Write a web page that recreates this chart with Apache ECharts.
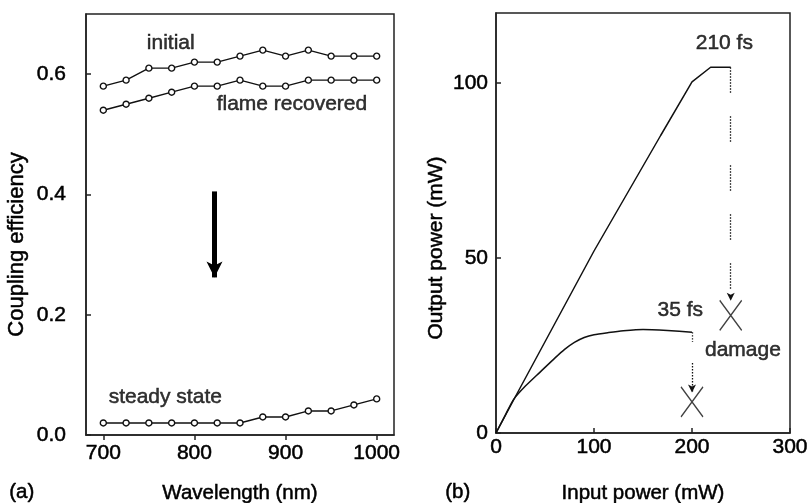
<!DOCTYPE html>
<html><head><meta charset="utf-8">
<script src="https://cdn.jsdelivr.net/npm/echarts@6/dist/echarts.min.js"></script>
<style>html,body{margin:0;padding:0;background:#fff}#c{width:807px;height:503px}</style>
</head><body><div id="c"></div>
<script>
// ---- Panel (a) data ----
const wavelengths = [700,725,750,775,800,825,850,875,900,925,950,975,1000];
const initialEff = [0.58,0.59,0.61,0.61,0.62,0.62,0.63,0.64,0.63,0.64,0.63,0.63,0.63];
const flameRecoveredEff = [0.54,0.55,0.56,0.57,0.58,0.58,0.59,0.58,0.58,0.59,0.59,0.59,0.59];
const steadyStateEff = [0.02,0.02,0.02,0.02,0.02,0.02,0.02,0.03,0.03,0.04,0.04,0.05,0.06];
const wavelengthTicks = [700,800,900,1000];
const efficiencyTicks = [0,0.2,0.4,0.6];
const degradeArrow = [[822,0.405],[822,0.262]];
const annotationsA = [
  {text:'initial', at:[774,0.651]},
  {text:'flame recovered', at:[907,0.55]},
  {text:'steady state', at:[768,0.063]}
];

// ---- Panel (b) data ----
const inputPower210 = [0,20,100,168,200,219,239.5];
const outputPower210 = [0,10.5,52,85,100.3,104.5,104.5];
const inputPower35 = [0,10,18,30,45,60,70,80,90,100,115,130,150,175,200];
const outputPower35 = [0,5.4,9.6,13.4,17.4,21.4,23.9,25.9,27.3,28.1,28.7,29.2,29.6,29.3,28.8];
const inputTicks = [0,100,200,300];
const outputTicks = [0,50,100];
const damagePoints = [[239.5,33.6],[200,8.9]];
const arrow210 = [[239.5,104.5],[239.5,37.8]];
const arrow35a = [[200,28.8],[200,26]];
const arrow35b = [[200,20],[200,11.6]];
const annotationsB = [
  {text:'210 fs', at:[233,111.4]},
  {text:'35 fs', at:[188,35.1]},
  {text:'damage', at:[252,23.7]}
];

const FONT = 'Liberation Sans, Arial, Helvetica, sans-serif';
const INK = '#111';
const TB = {textBorderColor:'#000', textBorderWidth:0.5};
const zip = (xs, ys) => xs.map((x,i)=>[x, ys[i]]);
function dotGroups(dot, gap, groupLen, groupGap){
  const a=[]; const n=Math.round(groupLen/(dot+gap));
  for(let i=0;i<n;i++){a.push(dot,gap);}
  a[a.length-1] += groupGap; return a;
}

const axisLineStyle = {color:'#222', width:1.5};
function ax(grid, min, max, ticks, name, nameGap, inside, margin, fmt, nameExtra){
  return {type:'value', gridIndex:grid, min:min, max:max,
    axisLine:{show:true, onZero:false, lineStyle:axisLineStyle},
    axisTick:{show:true, inside:inside, length:5, customValues:ticks, lineStyle:axisLineStyle},
    axisLabel:Object.assign({customValues:ticks, fontSize:21, color:'#000', fontFamily:FONT, margin:margin, formatter:fmt}, TB),
    splitLine:{show:false},
    name:name, nameLocation:'middle', nameGap:nameGap,
    nameTextStyle:Object.assign({fontSize:20.5, color:'#000', fontFamily:FONT}, TB, nameExtra||{})};
}

function effSeries(name, vals, extra){
  return Object.assign({type:'line', name:name, xAxisIndex:0, yAxisIndex:0,
    data:zip(wavelengths, vals), symbol:'circle', symbolSize:6, showSymbol:true,
    lineStyle:{color:INK, width:1.4}, itemStyle:{color:'#fff', borderColor:INK, borderWidth:1.4},
    emphasis:{disabled:true}, silent:true, z:3}, extra||{});
}
function textSeries(xi, yi, items){
  return {type:'scatter', xAxisIndex:xi, yAxisIndex:yi, symbolSize:1, silent:true,
    itemStyle:{color:'transparent'},
    label:Object.assign({show:true, position:'inside', formatter:'{b}', fontSize:21, color:'#000', fontFamily:FONT}, TB),
    data:items.map(a=>({name:a.text, value:a.at})), z:5};
}
function mline(pts){ return [{coord:pts[0]},{coord:pts[1]}]; }

const option = {
  animation:false,
  backgroundColor:'#fff',
  textStyle:{fontFamily:FONT},
  grid:[
    {left:86, top:14, width:308, height:421, show:true, borderColor:'#222', borderWidth:1.5, backgroundColor:'transparent', containLabel:false, outerBoundsMode:'none'},
    {left:496, top:13, width:294, height:420, show:true, borderColor:'#222', borderWidth:1.5, backgroundColor:'transparent', containLabel:false, outerBoundsMode:'none'}
  ],
  xAxis:[
    ax(0, 681, 1019, wavelengthTicks, 'Wavelength (nm)', 48, false, 8, v=>String(v)),
    ax(1, 0, 300, inputTicks, 'Input power (mW)', 50, true, 4, v=>String(v))
  ],
  yAxis:[
    ax(0, 0, 0.7, efficiencyTicks, 'Coupling efficiency', 58, true, 20, v=>v.toFixed(1), {fontSize:22, padding:[0,40,0,0]}),
    ax(1, 0, 120, outputTicks, 'Output power (mW)', 49, true, 8, v=>String(v), {fontSize:21, padding:[0,50,0,0]})
  ],
  series:[
    effSeries('initial', initialEff),
    effSeries('flame recovered', flameRecoveredEff),
    effSeries('steady state', steadyStateEff, {
      markLine:{silent:true, symbol:['none','arrow'], symbolSize:[12,16], label:{show:false},
        lineStyle:{color:'#000', width:5, type:'solid'}, emphasis:{disabled:true},
        data:[mline(degradeArrow)]}
    }),
    textSeries(0,0,annotationsA),
    {type:'line', name:'210 fs', xAxisIndex:1, yAxisIndex:1, data:zip(inputPower210, outputPower210),
      symbol:'none', lineStyle:{color:INK, width:1.5}, silent:true, emphasis:{disabled:true},
      markLine:{silent:true, symbol:['none','arrow'], symbolSize:[6,8], label:{show:false},
        lineStyle:{color:INK, width:1.3, type:dotGroups(1.4,1.6,28,22)}, emphasis:{disabled:true},
        data:[mline(arrow210)]}},
    {type:'line', name:'35 fs', xAxisIndex:1, yAxisIndex:1, data:zip(inputPower35, outputPower35),
      symbol:'none', smooth:0.2, lineStyle:{color:INK, width:1.5}, silent:true, emphasis:{disabled:true},
      markLine:{silent:true, symbol:['none','none'], label:{show:false},
        lineStyle:{color:INK, width:1.3, type:[1.4,1.6]}, emphasis:{disabled:true},
        data:[mline(arrow35a)]}},
    {type:'scatter', name:'damage', xAxisIndex:1, yAxisIndex:1, data:damagePoints,
      symbol:'path://M0 0 L20 28 M20 0 L0 28', symbolSize:[22,30], silent:true,
      itemStyle:{color:'none', borderColor:INK, borderWidth:1.4},
      markLine:{silent:true, symbol:['none','arrow'], symbolSize:[6,8], label:{show:false},
        lineStyle:{color:INK, width:1.3, type:[1.4,1.6]}, emphasis:{disabled:true},
        data:[mline(arrow35b)]}},
    textSeries(1,1,annotationsB)
  ],
  graphic:[
    {type:'text', left:9, top:482, style:{text:'(a)', fontSize:20.5, fill:'#000', fontFamily:FONT, stroke:'#000', lineWidth:0.5}},
    {type:'text', left:445, top:482, style:{text:'(b)', fontSize:20.5, fill:'#000', fontFamily:FONT, stroke:'#000', lineWidth:0.5}}
  ]
};
const chart = echarts.init(document.getElementById('c'), null, {renderer:'canvas'});
chart.setOption(option);
</script>
</body></html>
